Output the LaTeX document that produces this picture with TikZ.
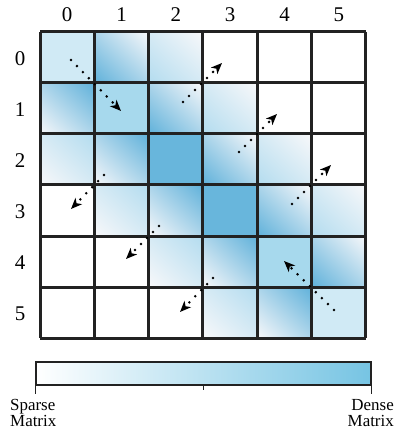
\documentclass[tikz,border=0pt]{standalone}
\usepackage{fontspec}
\setmainfont{Liberation Serif}
\usetikzlibrary{shadings,arrows.meta}
\definecolor{dense}{HTML}{68B6DC}
\definecolor{mid}{HTML}{A7D9ED}
\definecolor{lite}{HTML}{D0EAF5}
\definecolor{gone}{HTML}{5FB1DA}
\definecolor{gtwo}{HTML}{B3DCEF}
\definecolor{wend}{HTML}{F8F8FA}
\definecolor{gridc}{HTML}{222222}
\definecolor{cbar}{HTML}{76C4E3}
\definecolor{cbmid}{HTML}{D3E7F3}
\tikzset{
  up1/.style={lower left=gone, upper right=wend, upper left=gone!50!wend, lower right=gone!50!wend},
  lo1/.style={upper right=gone, lower left=wend, upper left=gone!50!wend, lower right=gone!50!wend},
  up2/.style={lower left=gtwo, upper right=wend, upper left=gtwo!50!wend, lower right=gtwo!50!wend},
  lo2/.style={upper right=gtwo, lower left=wend, upper left=gtwo!50!wend, lower right=gtwo!50!wend},
  gridline/.style={draw=gridc, line width=3bp},
  lab/.style={inner sep=0pt, font=\fontsize{21}{23}\selectfont},
  captext/.style={inner sep=0pt, font=\fontsize{17}{16}\selectfont},
  dotarrow/.style={line width=2.8bp, line cap=round, dash pattern=on 0pt off 8.5bp,
    -{Stealth[length=11bp, width=9bp, inset=3bp]}},
}
\begin{document}
\begin{tikzpicture}[x=1bp, y=-1bp]
\useasboundingbox (0,0) rectangle (402,434);
% diagonal cells
\foreach \r/\col in {0/lite,1/mid,2/dense,3/dense,4/mid,5/lite}
  \fill[\col] ({40+\r*54.33},{32+\r*51}) rectangle ({40+(\r+1)*54.33},{32+(\r+1)*51});
% gradient cells
\foreach \r/\c/\s in {0/1/up1,1/2/up1,2/3/up1,3/4/up1,4/5/up1,
                      1/0/lo1,2/1/lo1,3/2/lo1,4/3/lo1,5/4/lo1,
                      0/2/up2,1/3/up2,2/4/up2,3/5/up2,
                      2/0/lo2,3/1/lo2,4/2/lo2,5/3/lo2}
  \shade[\s] ({40+\c*54.33},{32+\r*51}) rectangle ({40+(\c+1)*54.33},{32+(\r+1)*51});
% grid
\foreach \i in {0,...,6} {
  \draw[gridline] ({40+\i*54.33},32) -- ({40+\i*54.33},338);
  \draw[gridline] (40,{32+\i*51}) -- (366,{32+\i*51});
}
% labels
\foreach \i in {0,...,5} {
  \node[lab] (c\i) at ({40+(\i+0.5)*54.33},15) {\i};
  \node[lab] (r\i) at (20,{32+(\i+0.5)*51+1}) {\i};
}
% arrow end points
\coordinate (a1s) at (71,60);   \coordinate (a1e) at (121,111);
\coordinate (a2s) at (183,102); \coordinate (a2e) at (222,63);
\coordinate (a3s) at (239,152); \coordinate (a3e) at (277,114);
\coordinate (a4s) at (292,204); \coordinate (a4e) at (331,165);
\coordinate (a5s) at (104,175); \coordinate (a5e) at (71,209);
\coordinate (a6s) at (159,226); \coordinate (a6e) at (126,259);
\coordinate (a7s) at (213,278); \coordinate (a7e) at (180,312);
\coordinate (a8s) at (334,310); \coordinate (a8e) at (284,261);
\foreach \k in {1,...,8}
  \draw[dotarrow] (a\k s) -- (a\k e);
% colour bar
\shade[left color=white, middle color=cbmid, right color=cbar] (36,362) rectangle (371,385);
\node[draw=gridc, line width=1.2bp, minimum width=335bp, minimum height=23bp, inner sep=0pt] (bar) at (203.5,373.5) {};
\draw[gridc, line width=1.2bp] (bar.south west) -- ++(0,8);
\draw[gridc, line width=1.2bp] (bar.south east) -- ++(0,8);
\draw[gridc, line width=1.2bp] (bar.south) -- ++(0,4);
\node[captext, anchor=north west, align=left] (sp) at (10,399) {Sparse\\Matrix};
\node[captext, anchor=north east, align=right] (dn) at (394,399) {Dense\\Matrix};
\end{tikzpicture}
\end{document}
